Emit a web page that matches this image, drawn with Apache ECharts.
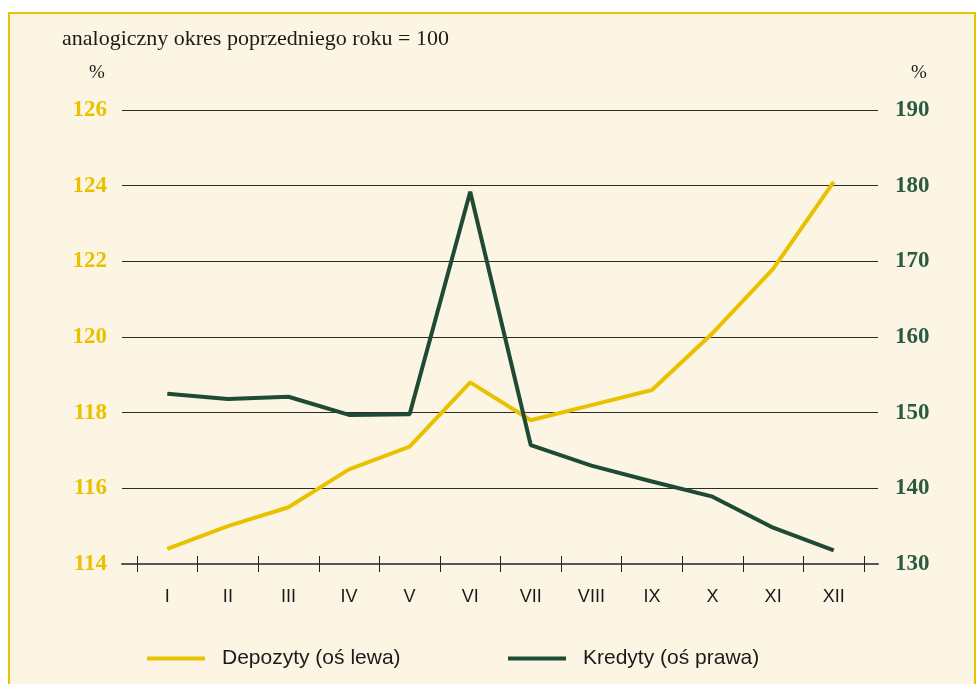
<!DOCTYPE html>
<html lang="pl">
  <head>
    <meta charset="utf-8" />
    <style>
      html, body { margin: 0; width: 100%; height: 100%; background: #ffffff; }
      #container { width: 978px; height: 684px; }
    </style>
    <script src="https://cdn.jsdelivr.net/npm/echarts@6/dist/echarts.min.js"></script>
  </head>
  <body>
    <div id="container"></div>
    <script>
      var months = ["I", "II", "III", "IV", "V", "VI", "VII", "VIII", "IX", "X", "XI", "XII"];
      var depozyty = [114.4, 115.0, 115.5, 116.5, 117.1, 118.8, 117.8, 118.2, 118.6, 120.1, 121.8, 124.1];
      var kredyty = [152.5, 151.8, 152.1, 149.7, 149.8, 179.2, 145.7, 143.0, 140.9, 138.9, 134.8, 131.8];
      var leftRange = [114, 126, 2];
      var rightRange = [130, 190, 10];

      var YELLOW = "#e8c200";
      var GREEN = "#1f4a33";
      var serif = "'Liberation Serif', 'DejaVu Serif', serif";
      var sans = "'Liberation Sans Narrow', 'Liberation Sans', Arial, sans-serif";

      var chart = echarts.init(document.getElementById("container"));

      // grid 0 draws the long grid lines and axis line, grid 1 carries the data
      var option = {
        animation: false,
        backgroundColor: "#ffffff",
        graphic: [
          {
            type: "rect", z: -10, silent: true,
            shape: { x: 9, y: 13, width: 966, height: 700 },
            style: { fill: "#fdf5e4", stroke: "#ebc400", lineWidth: 2 }
          },
          {
            type: "text", left: 62, top: 28,
            style: { text: "analogiczny okres poprzedniego roku = 100", font: "22px " + serif, fill: "#1a1a1a" }
          },
          {
            type: "text", left: 89, top: 64,
            style: { text: "%", font: "19px " + serif, fill: "#1a1a1a" }
          },
          {
            type: "text", left: 911, top: 64,
            style: { text: "%", font: "19px " + serif, fill: "#1a1a1a" }
          }
        ],
        legend: [
          {
            data: ["Depozyty (oś lewa)"], left: 142, top: 643,
            icon: "rect", itemWidth: 58, itemHeight: 4, itemGap: 0,
            textStyle: { fontFamily: sans, fontSize: 21, color: "#1a1a1a", padding: [0, 0, 0, 12] }
          },
          {
            data: ["Kredyty (oś prawa)"], left: 503, top: 643,
            icon: "rect", itemWidth: 58, itemHeight: 4, itemGap: 0,
            textStyle: { fontFamily: sans, fontSize: 21, color: "#1a1a1a", padding: [0, 0, 0, 12] }
          }
        ],
        grid: [
          { left: 122, right: 100, top: 110, bottom: 120 },
          { left: 137, right: 114, top: 110, bottom: 120 }
        ],
        xAxis: [
          {
            gridIndex: 0, type: "category", data: months, boundaryGap: true,
            axisLine: { lineStyle: { color: "#555", width: 2 } },
            axisTick: { show: false }, axisLabel: { show: false }
          },
          {
            gridIndex: 1, type: "category", data: months, boundaryGap: true, position: "bottom",
            axisLine: { show: false },
            axisTick: { show: true, length: 8, lineStyle: { color: "#222", width: 1 } },
            axisLabel: { fontFamily: sans, fontSize: 18, color: "#1a1a1a", margin: 24 }
          },
          {
            gridIndex: 1, type: "category", data: months, boundaryGap: true, position: "bottom",
            axisLine: { show: false },
            axisTick: { show: true, inside: true, length: 8, lineStyle: { color: "#222", width: 1 } },
            axisLabel: { show: false }
          }
        ],
        yAxis: [
          {
            gridIndex: 0, type: "value", min: leftRange[0], max: leftRange[1], interval: leftRange[2],
            axisLine: { show: false }, axisTick: { show: false },
            axisLabel: { color: YELLOW, fontFamily: serif, fontSize: 23, fontWeight: "bold", margin: 15 },
            splitLine: { lineStyle: { color: "#2a2a2a", width: 1 } }
          },
          {
            gridIndex: 0, type: "value", position: "right", min: rightRange[0], max: rightRange[1], interval: rightRange[2],
            axisLine: { show: false }, axisTick: { show: false },
            axisLabel: { color: "#2a5a40", fontFamily: serif, fontSize: 23, fontWeight: "bold", margin: 17 },
            splitLine: { show: false }
          },
          {
            gridIndex: 1, type: "value", min: leftRange[0], max: leftRange[1], interval: leftRange[2], show: false
          },
          {
            gridIndex: 1, type: "value", min: rightRange[0], max: rightRange[1], interval: rightRange[2], show: false
          }
        ],
        series: [
          {
            name: "Depozyty (oś lewa)", type: "line", xAxisIndex: 1, yAxisIndex: 2,
            data: depozyty, symbol: "none", itemStyle: { color: YELLOW },
            lineStyle: { color: YELLOW, width: 4 }
          },
          {
            name: "Kredyty (oś prawa)", type: "line", xAxisIndex: 1, yAxisIndex: 3,
            data: kredyty, symbol: "none", itemStyle: { color: GREEN },
            lineStyle: { color: GREEN, width: 4 }
          }
        ]
      };
      chart.setOption(option);
    </script>
  </body>
</html>
